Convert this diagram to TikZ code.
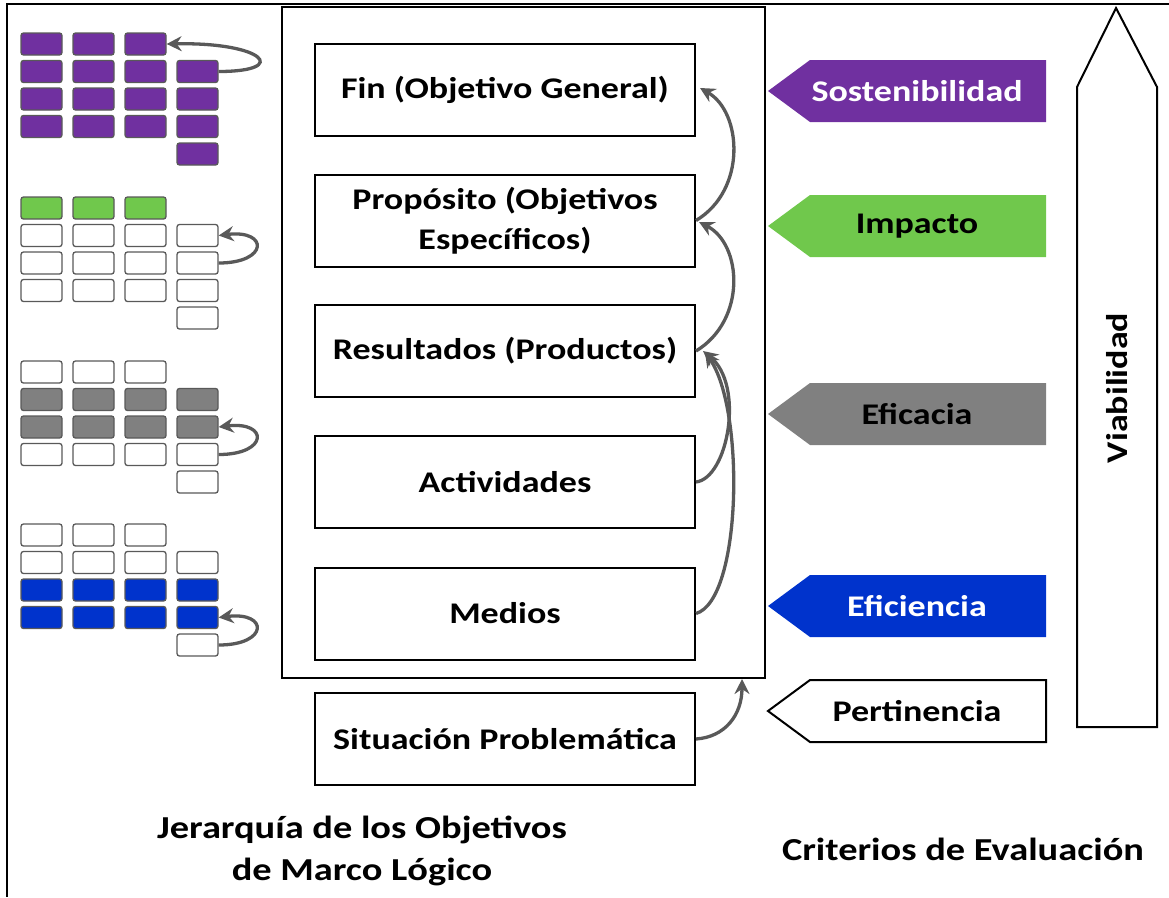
\documentclass[tikz,border=0pt]{standalone}
\usepackage{fontspec}
\setmainfont[FakeStretch=1.2]{Carlito}
\usetikzlibrary{arrows.meta}
\definecolor{cpurple}{RGB}{112,48,160}
\definecolor{cgreen}{RGB}{112,200,76}
\definecolor{cgray}{RGB}{128,128,128}
\definecolor{cblue}{RGB}{0,51,204}
\definecolor{carrow}{RGB}{89,89,89}
\tikzset{
  boxnode/.style={draw=black, line width=2pt, minimum width=380pt, minimum height=92pt, inner sep=0pt, align=center, font=\fontsize{30}{40}\selectfont\bfseries},
  cell/.style={draw=carrow, line width=1.3pt, rounded corners=2.5pt, minimum width=41pt, minimum height=22pt, inner sep=0pt},
  garrow/.style={draw=carrow, line width=3.3pt, -{Stealth[length=15pt,width=15pt,inset=5pt]}},
  lbl/.style={font=\fontsize{30}{36}\selectfont\bfseries, inner sep=0pt},
  title/.style={font=\fontsize{32}{42}\selectfont\bfseries, align=center, inner sep=0pt},
}
\begin{document}
\begin{tikzpicture}[x=1pt,y=-1pt]
\useasboundingbox (0,0) rectangle (1169,897);
% outer frame lines
\draw[line width=2pt] (6,4) -- (1169,4);
\draw[line width=2pt] (7,4) -- (7,897);
% big frame
\node[draw=black, line width=2pt, minimum width=483pt, minimum height=671pt, inner sep=0pt] (frame) at (523.5,342.5) {};
% boxes
\node[boxnode] (fin) at (505,90) {Fin (Objetivo General)};
\node[boxnode] (prop) at (505,220.5) {Propósito (Objetivos\\Específicos)};
\node[boxnode] (res) at (505,351) {Resultados (Productos)};
\node[boxnode] (act) at (505,482) {Actividades};
\node[boxnode] (med) at (505,613.5) {Medios};
\node[boxnode] (sit) at (505,739) {Situación Problemática};
% central arrows
\draw[garrow] (prop.east) .. controls (747,190) and (742,112) .. (700,88);
\draw[garrow] (res.east) .. controls (747,320) and (742,244) .. (699,222);
\draw[garrow] (act.east) .. controls (728,478) and (745,385) .. (703,351);
\draw[garrow] (med.east) .. controls (742,600) and (745,410) .. (705,352);
\draw[garrow] (sit.east) .. controls (725,737) and (742,715) .. (frame.south -| 742,0);
% criteria arrows
\foreach \yy/\col/\name in {60/cpurple/sost, 195/cgreen/imp, 383/cgray/efic, 575/cblue/efi}{
  \fill[\col] (1046,\yy) -- (810,\yy) -- (768,\yy+31) -- (810,\yy+62) -- (1046,\yy+62) -- cycle;
}
\draw[line width=2pt, fill=white] (1046,680) -- (810,680) -- (768,711) -- (810,742) -- (1046,742) -- cycle;
\node[lbl, text=white] (tsost) at (917,91) {Sostenibilidad};
\node[lbl] (timp) at (917,226) {Impacto};
\node[lbl] (tefic) at (917,414) {Eficacia};
\node[lbl, text=white] (tefi) at (917,606) {Eficiencia};
\node[lbl] (tpert) at (917,711) {Pertinencia};
% viabilidad
\draw[line width=2pt] (1077,727) -- (1077,87) -- (1116,8) -- (1157,87) -- (1157,727) -- cycle;
\node[lbl, rotate=90] (tviab) at (1117,388) {Viabilidad};
% titles
\node[title] (tjer) at (362,851) {Jerarquía de los Objetivos\\de Marco Lógico};
\node[title] (tcrit) at (963,849) {Criterios de Evaluación};
% grids
\foreach \gy/\g in {33/1,197/2,361/3,524/4}{
  \foreach \c/\cx in {1/41.5,2/93.5,3/145.5}{
    \foreach \r in {0,1,2,3}{
      \coordinate (g\g c\c r\r) at (\cx,\gy+11+27.5*\r);
    }
  }
  \foreach \r in {1,2,3,4}{
    \coordinate (g\g c4r\r) at (197.5,\gy+11+27.5*\r);
  }
}
% grid 1: all purple
\foreach \c in {1,2,3}{\foreach \r in {0,1,2,3}{\node[cell, fill=cpurple] (n1c\c r\r) at (g1c\c r\r) {};}}
\foreach \r in {1,2,3,4}{\node[cell, fill=cpurple] (n1c4r\r) at (g1c4r\r) {};}
% grid 2
\foreach \c in {1,2,3}{\node[cell, fill=cgreen] (n2c\c r0) at (g2c\c r0) {};}
\foreach \c in {1,2,3}{\foreach \r in {1,2,3}{\node[cell, fill=white] (n2c\c r\r) at (g2c\c r\r) {};}}
\foreach \r in {1,2,3,4}{\node[cell, fill=white] (n2c4r\r) at (g2c4r\r) {};}
% grid 3
\foreach \c in {1,2,3}{\node[cell, fill=white] (n3c\c r0) at (g3c\c r0) {};}
\foreach \c in {1,2,3}{\foreach \r in {1,2}{\node[cell, fill=cgray] (n3c\c r\r) at (g3c\c r\r) {};}}
\foreach \c in {1,2,3}{\node[cell, fill=white] (n3c\c r3) at (g3c\c r3) {};}
\foreach \r in {1,2}{\node[cell, fill=cgray] (n3c4r\r) at (g3c4r\r) {};}
\foreach \r in {3,4}{\node[cell, fill=white] (n3c4r\r) at (g3c4r\r) {};}
% grid 4
\foreach \c in {1,2,3}{\foreach \r in {0,1}{\node[cell, fill=white] (n4c\c r\r) at (g4c\c r\r) {};}}
\foreach \c in {1,2,3}{\foreach \r in {2,3}{\node[cell, fill=cblue] (n4c\c r\r) at (g4c\c r\r) {};}}
\node[cell, fill=white] (n4c4r1) at (g4c4r1) {};
\foreach \r in {2,3}{\node[cell, fill=cblue] (n4c4r\r) at (g4c4r\r) {};}
\node[cell, fill=white] (n4c4r4) at (g4c4r4) {};
% grid arrows
\draw[garrow] (n1c4r1.east) .. controls +(72,0) and +(98,-2) .. (n1c3r0.east);
\draw[garrow] (n2c4r2.east) .. controls +(50,0) and +(50,-6) .. (n2c4r1.east);
\draw[garrow] (n3c4r3.east) .. controls +(50,0) and +(50,-6) .. (n3c4r2.east);
\draw[garrow] (n4c4r4.east) .. controls +(50,0) and +(50,-6) .. (n4c4r3.east);
\end{tikzpicture}
\end{document}
